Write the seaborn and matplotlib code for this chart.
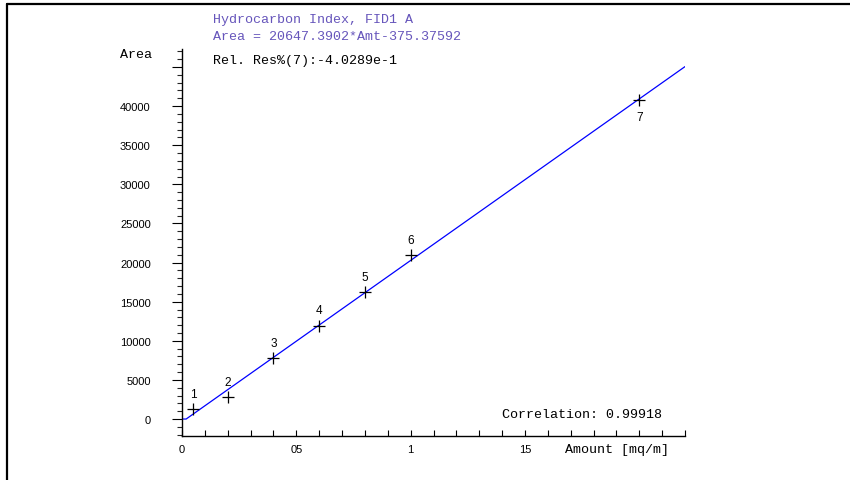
import numpy as np
import matplotlib
matplotlib.use("Agg")
import matplotlib.pyplot as plt
import seaborn as sns
from matplotlib.ticker import FixedLocator, MultipleLocator
from matplotlib.lines import Line2D

# ---- data ----
amount = [0.05, 0.2, 0.4, 0.6, 0.8, 1.0, 2.0]
area = [1280, 2770, 7800, 11920, 16190, 20960, 40770]
level_labels = ["1", "2", "3", "4", "5", "6", "7"]
slope = 20647.3902
intercept = -375.37592
x_ticks = [0, 0.5, 1.0, 1.5, 2.0]
x_ticklabels = ["0", "05", "1", "15", ""]
y_ticks = [0, 5000, 10000, 15000, 20000, 25000, 30000, 35000, 40000, 45000]
y_ticklabels = ["0", "5000", "10000", "15000", "20000", "25000", "30000",
                "35000", "40000", ""]
title_line1 = "Hydrocarbon Index, FID1 A"
title_line2 = "Area = 20647.3902*Amt-375.37592"
res_text = "Rel. Res%(7):-4.0289e-1"
corr_text = "Correlation: 0.99918"
x_label = "Amount [mq/m]"
y_label = "Area"

sns.set_style("ticks")
plt.rcParams["font.family"] = ["Liberation Sans", "DejaVu Sans"]

W, H = 850, 481
fig = plt.figure(figsize=(W / 100, H / 100), dpi=100)
ax = fig.add_axes([182 / W, 1 - 437 / H, (685 - 182) / W, (437 - 50) / H])

x_max = 2.2
fit_x = np.array([0.0, -intercept / slope, x_max])
fit_y = np.maximum(0.0, slope * fit_x + intercept)
sns.lineplot(x=fit_x, y=fit_y, ax=ax, color="#0000ff", linewidth=0.9,
             estimator=None, sort=False)
sns.scatterplot(x=amount, y=area, ax=ax, marker="+", color="black",
                s=65, linewidth=0.9, zorder=3)

for xv, yv, lab in zip(amount, area, level_labels):
    dy = -12 if lab == "7" else 11
    ax.annotate(lab, (xv, yv), xytext=(0, dy), textcoords="offset points",
                ha="center", va="center", fontsize=8.5, color="black")

ax.set_xlim(0, x_max)
ax.set_ylim(-2170, 47300)

ax.xaxis.set_major_locator(FixedLocator(x_ticks))
ax.set_xticklabels(x_ticklabels)
ax.xaxis.set_minor_locator(MultipleLocator(0.1))
ax.yaxis.set_major_locator(FixedLocator(y_ticks))
ax.set_yticklabels(y_ticklabels)
ax.yaxis.set_minor_locator(MultipleLocator(1000))

ax.tick_params(axis="x", which="both", direction="in", length=4, width=0.8,
               pad=6, labelsize=8, colors="black")
ax.tick_params(axis="y", which="major", direction="out", length=7.5,
               width=0.8, pad=15, labelsize=8, colors="black")
ax.tick_params(axis="y", which="minor", direction="out", length=3.8,
               width=0.8)

for s in ["top", "right"]:
    ax.spines[s].set_visible(False)
for s in ["left", "bottom"]:
    ax.spines[s].set_color("black")
    ax.spines[s].set_linewidth(1.0)
ax.set_xlabel("")
ax.set_ylabel("")

mono = ["Liberation Mono", "DejaVu Sans Mono"]
purple = "#6655bb"
fig.text(213 / W, 1 - 20 / H, title_line1, family=mono, fontsize=9.6,
         color=purple, va="center", ha="left")
fig.text(213 / W, 1 - 37 / H, title_line2, family=mono, fontsize=9.6,
         color=purple, va="center", ha="left")
fig.text(213 / W, 1 - 61 / H, res_text, family=mono, fontsize=9.6,
         color="black", va="center", ha="left")
fig.text(120 / W, 1 - 55 / H, y_label, family=mono, fontsize=9.6,
         color="black", va="center", ha="left")
fig.text(502 / W, 1 - 415 / H, corr_text, family=mono, fontsize=9.6,
         color="black", va="center", ha="left")
fig.text(565 / W, 1 - 450 / H, x_label, family=mono, fontsize=9.6,
         color="black", va="center", ha="left")

# outer frame (top and left edges)
fig.add_artist(Line2D([7 / W, 1.0], [1 - 5 / H, 1 - 5 / H],
                      transform=fig.transFigure, color="black", linewidth=1.6))
fig.add_artist(Line2D([7 / W, 7 / W], [0.0, 1 - 5 / H],
                      transform=fig.transFigure, color="black", linewidth=1.6))

fig.savefig("out.png", dpi=100)
